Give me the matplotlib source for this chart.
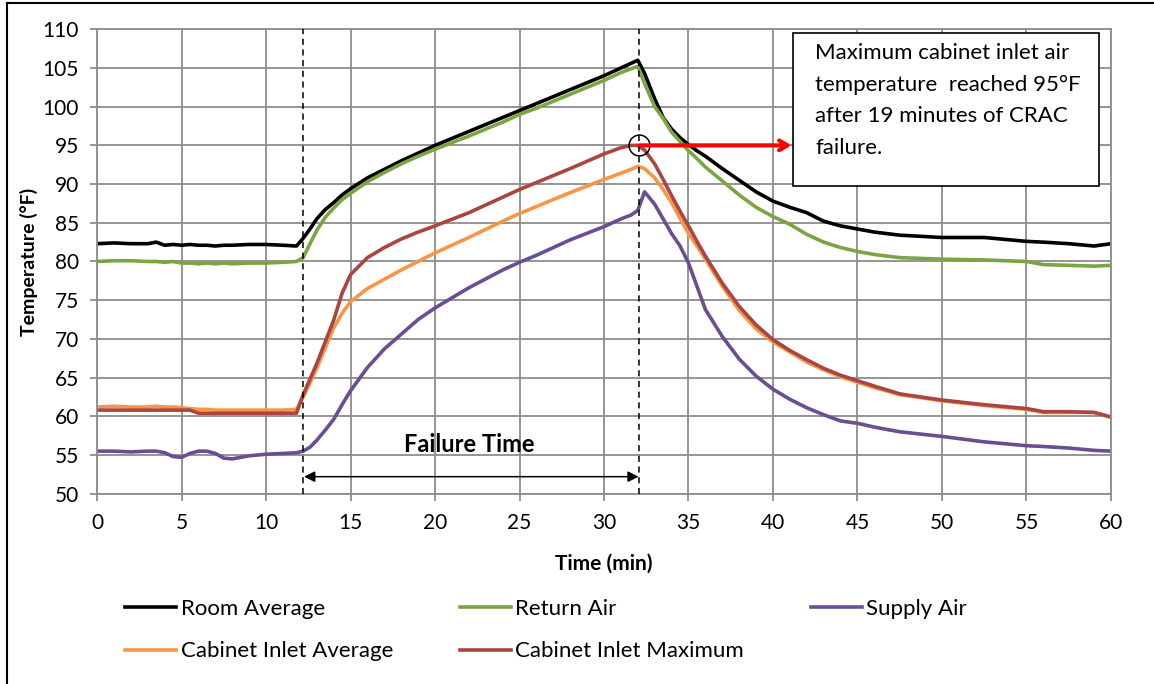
import numpy as np
import matplotlib
matplotlib.use("Agg")
import matplotlib.pyplot as plt
from matplotlib.lines import Line2D
from matplotlib.patches import Rectangle

plt.rcParams['font.family'] = ['Lato', 'DejaVu Sans']

# Data (time in minutes, temperature in deg F)
t = [0, 1, 2, 3, 3.5, 4, 4.5, 5, 5.5, 6, 6.5, 7, 7.5, 8, 9, 10, 11, 11.8,
     12.2, 12.6, 13, 13.5, 14, 14.5, 15, 16, 17, 18, 19, 20, 22, 24, 25, 26,
     28, 30, 31, 31.6, 32, 32.4, 33, 33.5, 34, 34.5, 35, 35.5, 36, 37, 38,
     39, 40, 41, 42, 43, 44, 45, 46, 47.5, 50, 52.5, 55, 56, 57.5, 59, 60]

room_avg = [82.3, 82.4, 82.3, 82.3, 82.5, 82.1, 82.2, 82.1, 82.2, 82.1, 82.1,
            82.0, 82.1, 82.1, 82.2, 82.2, 82.1, 82.0,
            83.0, 84.2, 85.5, 86.7, 87.6, 88.6, 89.4, 90.8, 91.9, 93.0, 94.0,
            95.0, 96.8, 98.6, 99.5, 100.4, 102.2, 104.0, 105.0, 105.6, 106.0,
            104.3, 101.0, 98.6, 97.1, 96.0, 95.1, 94.3, 93.6, 92.0, 90.5,
            89.0, 87.8, 87.0, 86.3, 85.2, 84.6, 84.2, 83.8, 83.4, 83.1, 83.1,
            82.6, 82.5, 82.3, 82.0, 82.3]

return_air = [80.0, 80.1, 80.1, 80.0, 80.0, 79.9, 80.0, 79.8, 79.8, 79.7,
              79.8, 79.7, 79.8, 79.7, 79.8, 79.8, 79.9, 80.0,
              80.5, 82.3, 84.0, 85.7, 86.9, 88.0, 88.8, 90.3, 91.5, 92.6,
              93.6, 94.5, 96.2, 98.0, 99.0, 99.8, 101.6, 103.4, 104.4, 104.9,
              105.2, 103.0, 100.0, 98.5, 96.7, 95.5, 94.3, 93.3, 92.2, 90.4,
              88.6, 87.0, 85.8, 84.8, 83.5, 82.5, 81.8, 81.3, 80.9, 80.5,
              80.3, 80.2, 80.0, 79.6, 79.5, 79.4, 79.5]

supply_air = [55.5, 55.5, 55.4, 55.5, 55.5, 55.3, 54.8, 54.7, 55.2, 55.5,
              55.5, 55.2, 54.6, 54.5, 54.9, 55.1, 55.2, 55.3,
              55.5, 56.0, 56.9, 58.2, 59.6, 61.5, 63.3, 66.3, 68.7, 70.6,
              72.5, 74.0, 76.6, 78.9, 79.9, 80.8, 82.8, 84.5, 85.5, 86.0,
              86.6, 89.0, 87.4, 85.5, 83.6, 82.0, 79.8, 76.8, 73.8, 70.3,
              67.4, 65.2, 63.5, 62.2, 61.1, 60.2, 59.4, 59.1, 58.6, 58.0,
              57.4, 56.7, 56.2, 56.1, 55.9, 55.6, 55.5]

cab_avg = [61.2, 61.3, 61.2, 61.2, 61.3, 61.2, 61.2, 61.1, 61.0, 60.9, 60.9,
           60.8, 60.8, 60.8, 60.8, 60.8, 60.8, 60.9,
           62.5, 64.3, 66.2, 68.8, 71.4, 73.3, 74.8, 76.5, 77.7, 78.9, 80.0,
           81.1, 83.1, 85.2, 86.2, 87.1, 88.9, 90.6, 91.4, 91.9, 92.3, 92.0,
           90.8, 89.3, 87.6, 85.6, 83.6, 82.0, 80.3, 76.8, 73.7, 71.3, 69.6,
           68.3, 67.0, 66.0, 65.1, 64.4, 63.7, 62.8, 62.0, 61.4, 60.9, 60.5,
           60.5, 60.5, 59.9]

cab_max = [60.8, 60.8, 60.8, 60.8, 60.8, 60.8, 60.8, 60.8, 60.8, 60.4, 60.4,
           60.4, 60.4, 60.4, 60.4, 60.4, 60.4, 60.4,
           62.8, 64.8, 66.8, 69.6, 72.4, 75.9, 78.3, 80.5, 81.8, 82.9, 83.8,
           84.6, 86.3, 88.3, 89.3, 90.2, 92.0, 93.9, 94.7, 95.0, 95.0, 94.4,
           92.6, 90.6, 88.5, 86.5, 84.6, 82.6, 80.7, 77.2, 74.2, 71.8, 69.9,
           68.5, 67.3, 66.2, 65.3, 64.6, 63.9, 62.9, 62.1, 61.5, 61.0, 60.6,
           60.6, 60.5, 59.9]

fail_start = 12.2
fail_end = 32.1
peak_temp = 95

fig = plt.figure(figsize=(11.54, 6.84), dpi=100)
ax = fig.add_axes([0.0841, 0.2782, 0.8786, 0.679])

grid_col = '#8c8c8c'
l1, = ax.plot(t, room_avg, color='black', lw=2.6, label='Room Average')
l2, = ax.plot(t, return_air, color='#7aa543', lw=2.6, label='Return Air')
l3, = ax.plot(t, supply_air, color='#6a4e94', lw=2.6, label='Supply Air')
l4, = ax.plot(t, cab_avg, color='#f79646', lw=2.6, label='Cabinet Inlet Average')
l5, = ax.plot(t, cab_max, color='#aa4541', lw=2.6, label='Cabinet Inlet Maximum')

# failure markers
for xv in (fail_start, fail_end):
    ax.axvline(xv, color='black', ls=(0, (4, 3)), lw=1.1, zorder=4)

ax.annotate('', xy=(fail_start + 0.05, 52.2), xytext=(fail_end - 0.05, 52.2),
            arrowprops=dict(arrowstyle='<|-|>', color='black', lw=1.1,
                            mutation_scale=16, shrinkA=0, shrinkB=0))
ax.text(22, 56.4, 'Failure Time', ha='center', va='center',
        fontsize=17, fontweight='bold')

# peak marker and callout
ax.plot(fail_end, peak_temp, 'o', mfc='none', mec='black', ms=15, mew=1.1, zorder=6)
ax.annotate('', xy=(41.1, peak_temp), xytext=(fail_end, peak_temp),
            arrowprops=dict(arrowstyle='->,head_length=0.6,head_width=0.35',
                            color='red', lw=3, shrinkA=0, shrinkB=0), zorder=7)
ax.add_patch(Rectangle((41.2, 89.7), 18.1, 19.8, facecolor='white',
                       edgecolor='black', lw=1.2, zorder=8))
ax.text(42.5, 108.2, 'Maximum cabinet inlet air\ntemperature  reached 95°F\n'
        'after 19 minutes of CRAC\nfailure.', ha='left', va='top',
        fontsize=16, linespacing=1.72, zorder=9)

ax.set_xlim(0, 60)
ax.set_ylim(50, 110)
ax.set_xticks(np.arange(0, 61, 5))
ax.set_yticks(np.arange(50, 111, 5))
ax.grid(True, color=grid_col, lw=1.3)
ax.set_axisbelow(True)
for s in ax.spines.values():
    s.set_color(grid_col)
    s.set_linewidth(1.3)
ax.tick_params(axis='both', colors=grid_col, length=5, width=1.3,
               labelsize=15, labelcolor='black')
ax.tick_params(axis='x', pad=9)
ax.tick_params(axis='y', pad=8)

ax.set_xlabel('Time (min)', fontsize=15, fontweight='bold', labelpad=15)
ax.set_ylabel('Temperature (°F)', fontsize=14, fontweight='bold', labelpad=3)

fig.legend([l1, l4, l2, l5, l3],
           ['Room Average', 'Cabinet Inlet Average', 'Return Air',
            'Cabinet Inlet Maximum', 'Supply Air'],
           loc='upper left', bbox_to_anchor=(0.1083, 0.124), ncol=3,
           frameon=False, fontsize=16, handlelength=2.3, handletextpad=0.2,
           columnspacing=3.0, labelspacing=1.0, borderpad=0, borderaxespad=0)

# outer frame edges
fig.add_artist(Line2D([7 / 1154, 7 / 1154], [0, 1 - 3 / 684],
                      transform=fig.transFigure, color='black', lw=1.5))
fig.add_artist(Line2D([7 / 1154, 1], [1 - 3 / 684, 1 - 3 / 684],
                      transform=fig.transFigure, color='black', lw=1.5))

fig.savefig('out.png', dpi=100)
